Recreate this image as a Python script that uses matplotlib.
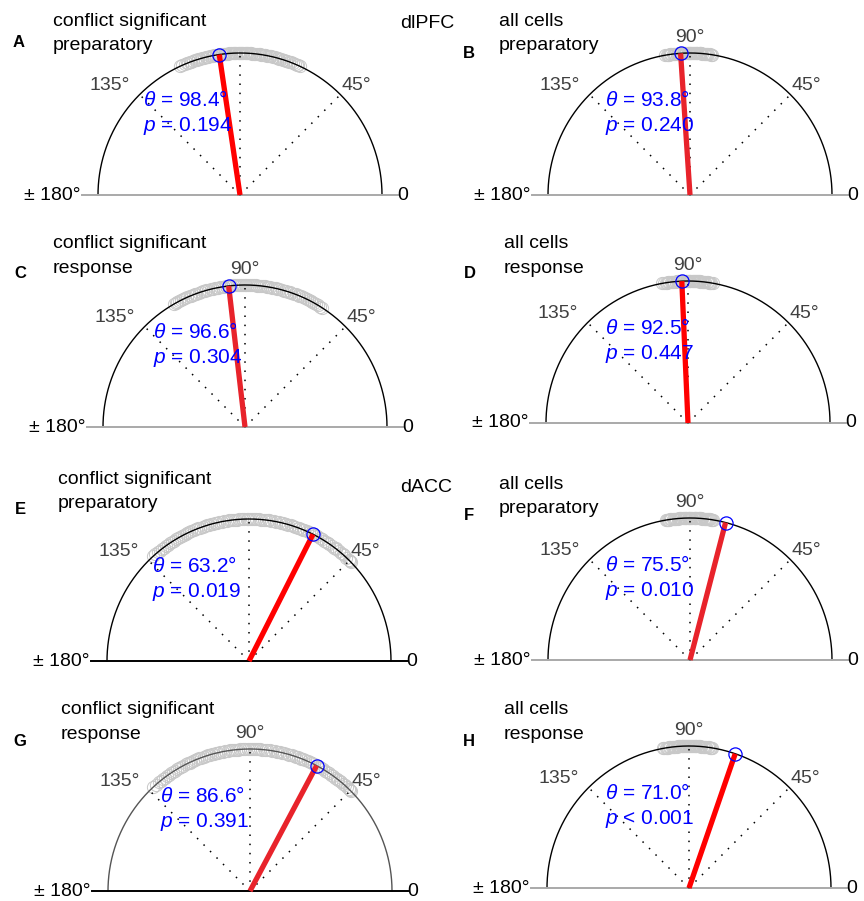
import matplotlib
matplotlib.use('Agg')
import matplotlib.pyplot as plt
import numpy as np

plt.rcParams['font.family'] = ['Liberation Sans', 'DejaVu Sans']
plt.rcParams['mathtext.fontset'] = 'custom'
plt.rcParams['mathtext.it'] = 'Liberation Sans:italic'
plt.rcParams['mathtext.rm'] = 'Liberation Sans'

# ---------------- data ----------------
panel_letters = ['A', 'B', 'C', 'D', 'E', 'F', 'G', 'H']
title_line1 = ['conflict significant', 'all cells', 'conflict significant', 'all cells',
               'conflict significant', 'all cells', 'conflict significant', 'all cells']
title_line2 = ['preparatory', 'preparatory', 'response', 'response',
               'preparatory', 'preparatory', 'response', 'response']
region_labels = ['dlPFC', 'dACC']
theta_labels = [98.4, 93.8, 96.6, 92.5, 63.2, 75.5, 86.6, 71.0]
p_labels = ['= 0.194', '= 0.240', '= 0.304', '= 0.447', '= 0.019', '= 0.010', '= 0.391', '< 0.001']
# angle of the drawn mean-direction line (deg)
line_angles = [98.4, 93.8, 96.6, 92.5, 63.2, 75.5, 62.0, 71.0]

pts_A = [65, 65.8, 66.5, 67.4, 68, 69.1, 70, 70.6, 71, 71.9, 72.5, 73.2, 74, 74.6, 75, 75.9,
         76.5, 77.3, 78, 78.4, 79, 79.7, 80, 80.8, 81.5, 82, 82.5, 83.3, 84, 84.4, 85, 85.6,
         86, 86.7, 87, 87.5, 88, 88.6, 89, 89.4, 90, 90.5, 91, 91.6, 92, 92.4, 93, 93.8, 94.5,
         95, 95.5, 96.1, 96.5, 97.2, 98, 98.5, 99, 99.8, 100.5, 101, 101.5, 102.3, 103, 103.6,
         104, 104.8, 105.5, 106.2, 107, 107.7, 108.5, 109.2, 110, 110.8, 111.5, 112.1, 113,
         113.9, 115]
pts_B = [81, 81.5, 82, 82.6, 83, 83.4, 84, 84.5, 85, 85.5, 85.8, 86, 86.5, 87, 87.3, 87.5,
         88, 88.5, 88.8, 89, 89.5, 89.8, 90, 90.5, 90.8, 91, 91.5, 92, 92.3, 92.5, 93, 93.5,
         93.9, 94.5, 95, 95.4, 96, 96.5, 97, 97.6, 98, 98.5, 99, 99.5, 100]
pts_C = [57, 58, 59, 60.2, 61, 61.8, 62.5, 63.4, 64, 65, 66, 66.8, 67.5, 68.3, 69, 70, 71,
         71.7, 72.5, 73.3, 74, 75, 76, 76.8, 77.5, 78.2, 79, 79.8, 80.5, 81.2, 82, 82.8, 83.5,
         84.3, 85, 85.7, 86.5, 87.2, 88, 88.7, 89.5, 90.2, 91, 91.8, 92.5, 93.3, 94, 94.7,
         95.5, 96.3, 97, 97.8, 98.5, 99.2, 100, 100.8, 101.5, 102.2, 103, 104, 105, 105.8,
         106.5, 107.2, 108, 109, 110, 110.7, 111.5, 112.3, 113, 114, 115, 116, 117, 117.8,
         118.5, 119.3, 120]
pts_D = [80, 80.6, 81, 81.5, 82, 82.5, 83, 83.6, 84, 84.5, 85, 85.3, 85.5, 86, 86.5, 86.8,
         87, 87.5, 88, 88.4, 89, 89.3, 89.5, 90, 90.5, 90.8, 91, 91.5, 92, 92.6, 93, 93.5, 94,
         94.5, 95, 95.6, 96, 96.5, 97, 97.7, 98, 98.5, 99, 99.8, 100.5]
pts_E = [44, 44.8, 45.5, 46.7, 48, 48.8, 49.5, 50.6, 52, 52.4, 53, 54.2, 55.5, 56.3, 57, 58,
         59, 60.2, 61.5, 62.2, 63, 64, 65, 66, 67, 67.8, 68.5, 69.2, 70, 71, 72, 73, 74, 74.8,
         75.5, 76.2, 77, 78, 79, 80, 81, 81.8, 82.5, 83.3, 84, 85, 86, 87, 88, 88.8, 89.5,
         90.3, 91, 92, 93, 94, 95, 95.8, 96.5, 97.2, 98, 99, 100, 101, 102, 103, 104, 104.8,
         105.5, 106.2, 107, 108, 109, 110, 111, 112, 113, 114, 115, 115.8, 116.5, 117.2, 118,
         119, 120, 121, 122, 123, 124, 125, 126, 127, 128, 129, 130, 131.2, 132.5]
pts_F = [80.5, 81, 81.5, 82, 82.5, 82.8, 83, 83.5, 84, 84.5, 85, 85.5, 86, 86.3, 86.5, 87,
         87.5, 87.8, 88, 88.5, 89, 89.5, 90, 90.3, 90.5, 91, 91.5, 91.8, 92, 92.5, 93, 93.5,
         94, 94.5, 95, 95.5, 96, 96.5, 97, 97.5, 98, 98.5, 99, 99.4, 99.7]
pts_G = [44.5, 45.2, 46, 47, 48, 49, 50, 50.8, 51.5, 52.2, 53, 54, 55, 56, 57, 58, 59, 59.8,
         60.5, 61.2, 62, 63, 64, 65, 66, 67, 68, 68.8, 69.5, 70.2, 71, 72, 73, 74, 75, 76, 77,
         77.8, 78.5, 79.2, 80, 81, 82, 83, 84, 85, 86, 86.8, 87.5, 88.2, 89, 90, 91, 92, 93,
         94, 95, 95.8, 96.5, 97.2, 98, 99, 100, 101, 102, 103, 104, 104.8, 105.5, 106.2, 107,
         108, 109, 110, 111, 112, 113, 113.8, 114.5, 115.2, 116, 117, 118, 119, 120, 121, 122,
         123, 124, 125, 126, 127, 128, 129, 130, 131.5, 133]
pts_H = [80.5, 81, 81.5, 82, 82.5, 83, 83.5, 84, 84.5, 85, 85.5, 86, 86.5, 87, 87.3, 87.5,
         88, 88.5, 88.8, 89, 89.5, 90, 90.5, 91, 91.3, 91.5, 92, 92.5, 92.8, 93, 93.5, 94,
         94.5, 95, 95.5, 96, 96.5, 97, 97.5, 98, 98.5, 99, 99.5, 100, 100.5]
points = [pts_A, pts_B, pts_C, pts_D, pts_E, pts_F, pts_G, pts_H]

# ---------------- layout (pixels) ----------------
W, H = 864, 901
R = 142.0
centers = [(240, 195), (690, 195), (245, 427), (688, 423),
           (249, 661), (690, 660), (250, 891), (689, 888)]
letter_pos = [(18.5, 42.5), (469, 53), (20, 273), (469.5, 273),
              (20, 510), (469, 515), (20, 742), (469, 742)]
title_pos = [(53, 26, 50), (499, 26, 50), (53, 248, 273), (504, 248, 273),
             (58, 484, 508), (499, 489, 513), (61, 714, 739), (504, 714, 739)]
region_pos = [(400, 28), (400, 492)]
stat_dx = [-97, -85, -92, -83, -97, -85, -90, -84]
show_90 = [False, True, True, True, False, True, True, True]
base_colors = ['#a9a9a9', '#a9a9a9', '#a9a9a9', '#a9a9a9', 'black', '#a9a9a9', 'black', '#a9a9a9']
arc_colors = ['black', 'black', 'black', 'black', 'black', 'black', '#555555', 'black']
red_colors = ['#ff0000', '#e8232b', '#e8232b', '#ff0000', '#ff0000', '#e8232b', '#e8232b', '#ff0000']
lab_col = '#404040'

fig = plt.figure(figsize=(W / 100, H / 100), dpi=100)

def fx(x):
    return x / W

def fy(y):
    return 1 - y / H

for i in range(8):
    cx, by = centers[i]
    xl, xr = -1.35, 1.35
    yb, yt = -0.1, 1.25
    ax = fig.add_axes([fx(cx + xl * R), fy(by - yb * R), (xr - xl) * R / W, (yt - yb) * R / H])
    ax.set_xlim(xl, xr)
    ax.set_ylim(yb, yt)
    ax.axis('off')

    # data points
    a = np.deg2rad(np.array(points[i]))
    ax.plot(np.cos(a), np.sin(a), 'o', ms=8.8, mfc='none', mec='#c8c8c8', mew=0.7, zorder=1,
            clip_on=False)

    # semicircle
    t = np.linspace(0, np.pi, 400)
    ax.plot(np.cos(t), np.sin(t), color=arc_colors[i], lw=1.0, zorder=2)
    # baseline
    ax.plot([-1.11, 1.11], [0, 0], color=base_colors[i], lw=1.4, zorder=2, clip_on=False)
    # dotted spokes
    for ang in (45, 90, 135):
        r = np.deg2rad(ang)
        ax.plot([0, np.cos(r)], [0, np.sin(r)], color='black', lw=1.1, ls=(0, (1, 5)), zorder=2)

    # labels
    ax.text(-0.92, 0.77, '135°', color=lab_col, fontsize=14, ha='center', va='center')
    ax.text(0.82, 0.77, '45°', color=lab_col, fontsize=14, ha='center', va='center')
    if show_90[i]:
        ax.text(0.0, 1.11, '90°', color=lab_col, fontsize=14, ha='center', va='center')
    ax.text(-1.12, 0.0, '± 180°', color='black', fontsize=14, ha='right', va='center')
    ax.text(1.11, 0.0, '0', color='black', fontsize=14, ha='left', va='center')

    # mean direction
    m = np.deg2rad(line_angles[i])
    ax.plot([0, np.cos(m)], [0, np.sin(m)], color=red_colors[i], lw=3.8, solid_capstyle='butt',
            zorder=3)
    ax.plot([np.cos(m)], [np.sin(m)], 'o', ms=9.5, mfc='none', mec='#0000ff', mew=0.9, zorder=4,
            clip_on=False)

    # stats
    dx = stat_dx[i] / R
    ax.text(dx, 89 / R, r'$\theta$ = %.1f°' % theta_labels[i], color='#0000ff', fontsize=15,
            ha='left', va='baseline', zorder=5)
    ax.text(dx, 64 / R, r'$p$ ' + p_labels[i], color='#0000ff', fontsize=15,
            ha='left', va='baseline', zorder=5)

    # titles and letters
    tx, b1, b2 = title_pos[i]
    fig.text(fx(tx), fy(b1), title_line1[i], fontsize=14, ha='left', va='baseline')
    fig.text(fx(tx), fy(b2), title_line2[i], fontsize=14, ha='left', va='baseline')
    lx, ly = letter_pos[i]
    fig.text(fx(lx), fy(ly), panel_letters[i], fontsize=12, fontweight='bold',
             ha='center', va='center')

for lab, (rx, ry) in zip(region_labels, region_pos):
    fig.text(fx(rx), fy(ry), lab, fontsize=14, ha='left', va='baseline')

fig.savefig('out.png', dpi=100)
